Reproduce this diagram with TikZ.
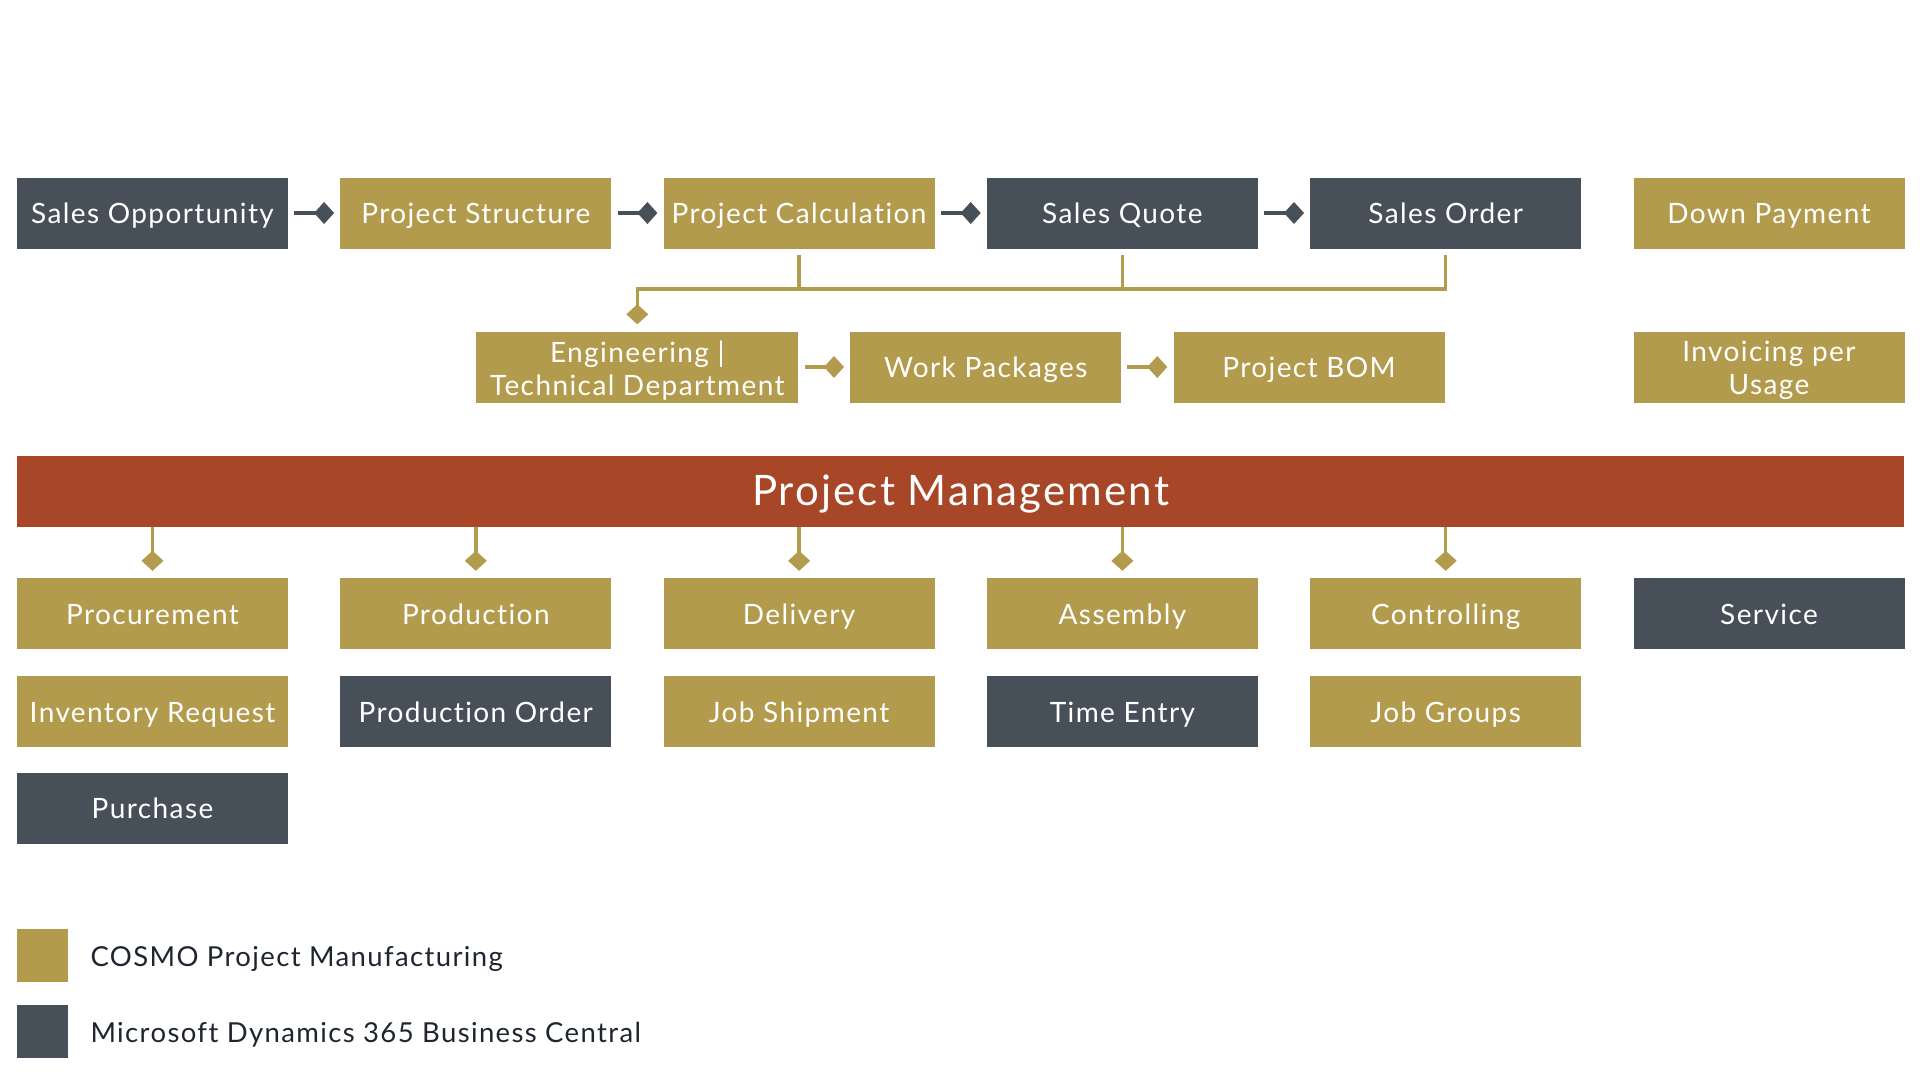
\documentclass[tikz,border=0pt]{standalone}
\usepackage{fontspec}
\setmainfont{Lato}[LetterSpace=5, Ligatures=NoCommon]
\usetikzlibrary{arrows.meta}
\definecolor{gold}{HTML}{B39B4E}
\definecolor{slate}{HTML}{474F59}
\definecolor{rust}{HTML}{A84628}
\definecolor{ink}{HTML}{1E2430}
\tikzset{
  box/.style={minimum width=271pt, minimum height=71pt, inner sep=0pt, text=white,
    font=\fontsize{28}{33}\selectfont, align=center, text height=27pt, text depth=6pt},
  twoline/.style={text height=, text depth=, yshift=-3.5pt},
  goldbox/.style={box, fill=gold},
  slatebox/.style={box, fill=slate},
  conn/.style={line width=3.5pt},
  tipd/.style={-{Diamond[length=20pt,width=22pt]}},
  slatearrow/.style={conn, draw=slate, tipd, fill=slate},
  goldarrow/.style={conn, draw=gold, tipd, fill=gold},
  goldline/.style={conn, draw=gold},
  legsq/.style={minimum width=51pt, minimum height=53pt, inner sep=0pt},
  legtext/.style={anchor=west, text=ink, font=\fontsize{27.5}{32}\selectfont, yshift=-3.5pt}
}
\begin{document}
\begin{tikzpicture}[x=1pt,y=-1pt]
\useasboundingbox (0,0) rectangle (1920,1080);
% row 1
\node[slatebox] (so) at (152.5,213) {Sales Opportunity};
\node[goldbox] (ps) at (475.8,213) {Project Structure};
\node[goldbox] (pc) at (799.1,213) {Project Calculation};
\node[slatebox] (sq) at (1122.4,213) {Sales Quote};
\node[slatebox] (sor) at (1445.7,213) {Sales Order};
\node[goldbox] (dp) at (1769,213) {Down Payment};
% row 2
\node[goldbox, minimum width=322pt] (eng) at (637.3,367) {};
\node[twoline, text=white, font=\fontsize{28}{33}\selectfont, align=center] (engt) at (eng.center) {Engineering |\\Technical Department};
\node[goldbox] (wp) at (985.7,367) {Work Packages};
\node[goldbox] (bom) at (1309,367) {Project BOM};
\node[goldbox] (inv) at (1769,367) {};
\node[twoline, text=white, font=\fontsize{28}{33}\selectfont, align=center] (invt) at (inv.center) {Invoicing per\\Usage};
% PM bar
\node[fill=rust, minimum width=1887pt, minimum height=71pt, inner sep=0pt, text=white,
  font=\fontsize{42}{48}\selectfont] (pm) at (960.5,491) {};
\node[text=white, font=\fontsize{42}{48}\selectfont, yshift=-3.5pt] (pmt) at (pm.center) {Project Management};
% row 3
\node[goldbox] (proc) at (152.5,613.5) {Procurement};
\node[goldbox] (prod) at (475.8,613.5) {Production};
\node[goldbox] (del) at (799.1,613.5) {Delivery};
\node[goldbox] (asm) at (1122.4,613.5) {Assembly};
\node[goldbox] (ctl) at (1445.7,613.5) {Controlling};
\node[slatebox] (svc) at (1769,613.5) {Service};
% row 4
\node[goldbox] (ir) at (152.5,711.5) {Inventory Request};
\node[slatebox] (po) at (475.8,711.5) {Production Order};
\node[goldbox] (js) at (799.1,711.5) {Job Shipment};
\node[slatebox] (te) at (1122.4,711.5) {Time Entry};
\node[goldbox] (jg) at (1445.7,711.5) {Job Groups};
% row 5
\node[slatebox] (pur) at (152.5,808) {Purchase};
% row 1 arrows
\draw[slatearrow] ([xshift=6pt]so.east) -- ([xshift=-6pt]ps.west);
\draw[slatearrow] ([xshift=6pt]ps.east) -- ([xshift=-6pt]pc.west);
\draw[slatearrow] ([xshift=6pt]pc.east) -- ([xshift=-6pt]sq.west);
\draw[slatearrow] ([xshift=6pt]sq.east) -- ([xshift=-6pt]sor.west);
% bus
\coordinate (busy) at (0,289);
\draw[goldline] ([yshift=-6pt]pc.south) -- (pc.south |- busy);
\draw[goldline] ([yshift=-6pt]sq.south) -- (sq.south |- busy);
\draw[goldline] ([yshift=-6pt]sor.south) |- ([xshift=-1.75pt]eng.north |- busy);
\draw[goldarrow] ([yshift=1.75pt]eng.north |- busy) -- ([yshift=7pt]eng.north);
% row 2 arrows
\draw[goldarrow] ([xshift=6pt]eng.east) -- ([xshift=-6pt]wp.west);
\draw[goldarrow] ([xshift=6pt]wp.east) -- ([xshift=-6pt]bom.west);
% PM arrows
\foreach \n in {proc,prod,del,asm,ctl}
  \draw[goldarrow] (pm.south -| \n.north) -- ([yshift=7pt]\n.north);
% legend
\node[legsq, fill=gold] (lg) at (42.8,955.7) {};
\node[legsq, fill=slate] (ls) at (42.8,1031) {};
\node[legtext] (lgt) at (87,955.7) {COSMO Project Manufacturing};
\node[legtext] (lst) at (87,1031) {Microsoft Dynamics 365 Business Central};
\end{tikzpicture}
\end{document}
